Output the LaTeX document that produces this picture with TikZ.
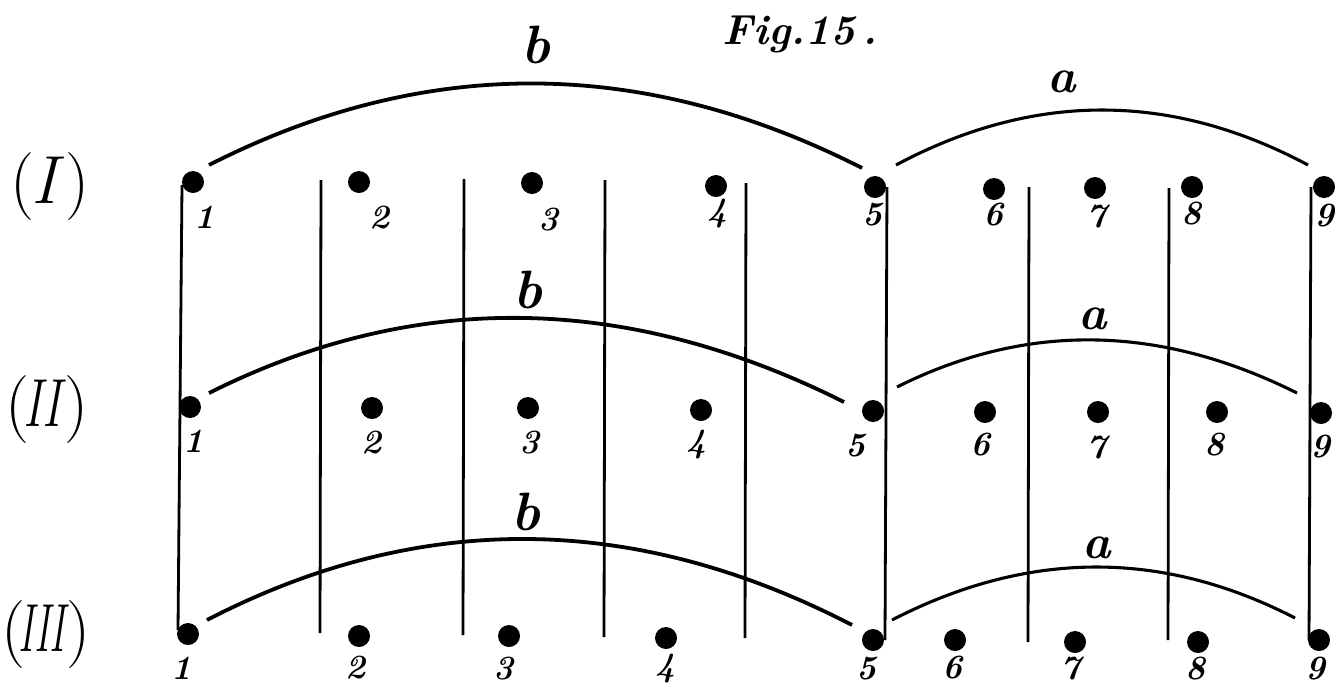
\documentclass[tikz,border=0pt]{standalone}
\usepackage{fontspec}
\usepackage{graphicx}
\tikzset{
  blob/.style={circle, fill=black, inner sep=0pt, minimum size=22pt},
  numlbl/.style={font=\fontsize{34}{34}\selectfont\bfseries\itshape, inner sep=0pt},
  barclbl/.style={font=\fontsize{54}{54}\selectfont\bfseries\itshape, inner sep=0pt},
  aarclbl/.style={font=\fontsize{48}{48}\selectfont\bfseries\itshape, inner sep=0pt},
  rowlbl/.style={font=\fontsize{68}{68}\selectfont, inner sep=0pt},
  figlbl/.style={font=\fontsize{42}{42}\selectfont\bfseries\itshape, inner sep=0pt},
  vline/.style={line width=2.8pt},
  barc/.style={line width=3.8pt},
  aarc/.style={line width=3.1pt}
}
\begin{document}
\begin{tikzpicture}[x=1pt,y=-1pt]
\fill[white] (0,0) rectangle (1335,689);
\useasboundingbox (0,0) rectangle (1335,689);

% title
\node[figlbl] (fig) at (800,34) {Fig.15\,.};

% row labels
\node[rowlbl] (rI)   at (50,187) {(\kern-0.05em\textit{I}\kern0.02em)};
\node[rowlbl] (rII)  at (47,410) {(\kern-0.08em\scalebox{0.72}[1]{\textit{II}}\kern-0.02em)};
\node[rowlbl] (rIII) at (46,635) {(\kern-0.1em\scalebox{0.6}[1]{\textit{III}}\kern-0.04em)};

% dots
\foreach \n/\x/\y in {1/193/182,2/359/182,3/532/183,4/716/186,5/875/187,6/994/189,7/1095/188,8/1192/187,9/1324/187}
  \node[blob] (dI\n) at (\x,\y) {};
\foreach \n/\x/\y in {1/190/407,2/372/408,3/528/408,4/701/410,5/873/411,6/985/412,7/1098/412,8/1217/412,9/1321/413}
  \node[blob] (dII\n) at (\x,\y) {};
\foreach \n/\x/\y in {1/188/634,2/359/636,3/509/636,4/666/638,5/873/640,6/955/640,7/1075/642,8/1198/642,9/1319/640}
  \node[blob] (dIII\n) at (\x,\y) {};

% number labels
\foreach \n/\x/\y in {1/205/217,2/380/218,3/549/220,4/718/214,5/873/215,6/994/215,7/1097/217,8/1192/214,9/1325/216}
  \node[numlbl] (lI\n) at (\x,\y) {\n};
\foreach \n/\x/\y in {1/194/441,2/372/443,3/530/443,4/697/445,5/856/446,6/981/445,7/1097/448,8/1215/445,9/1321/447}
  \node[numlbl] (lII\n) at (\x,\y) {\n};
\foreach \n/\x/\y in {1/182/668,2/356/668,3/504/669,4/666/669,5/867/669,6/953/668,7/1071/669,8/1196/669,9/1316/669}
  \node[numlbl] (lIII\n) at (\x,\y) {\n};

% vertical lines
\coordinate (v1t) at (182,185); \coordinate (v1b) at (178,630);
\coordinate (v2t) at (321,180); \coordinate (v2b) at (320,633);
\coordinate (v3t) at (464,179); \coordinate (v3b) at (463,635);
\coordinate (v4t) at (605,180); \coordinate (v4b) at (604,637);
\coordinate (v5t) at (746,183); \coordinate (v5b) at (745,638);
\coordinate (v6t) at (887,187); \coordinate (v6b) at (885,640);
\coordinate (v7t) at (1029,187); \coordinate (v7b) at (1028,642);
\coordinate (v8t) at (1169,188); \coordinate (v8b) at (1168,640);
\coordinate (v9t) at (1311,187); \coordinate (v9b) at (1309,640);
\foreach \i in {1,...,9}
  \draw[vline] (v\i t) -- (v\i b);

% arcs
\coordinate (bIs) at (209,165);  \coordinate (bIe) at (862,168);
\coordinate (aIs) at (896,165);  \coordinate (aIe) at (1308,165);
\coordinate (bIIs) at (209,393); \coordinate (bIIe) at (844,402);
\coordinate (aIIs) at (897,387); \coordinate (aIIe) at (1297,393);
\coordinate (bIIIs) at (207,620); \coordinate (bIIIe) at (852,625);
\coordinate (aIIIs) at (892,620); \coordinate (aIIIe) at (1295,618);

\draw[barc] (bIs) .. controls +(217.7,-110.7) and +(-217.7,-110.7) .. (bIe);
\draw[aarc] (aIs) .. controls +(137.3,-73.3) and +(-137.3,-73.3) .. (aIe);
\draw[barc] (bIIs) .. controls +(211.7,-106) and +(-211.7,-106) .. (bIIe);
\draw[aarc] (aIIs) .. controls +(133.3,-66.7) and +(-133.3,-66.7) .. (aIIe);
\draw[barc] (bIIIs) .. controls +(215,-111.3) and +(-215,-111.3) .. (bIIIe);
\draw[aarc] (aIIIs) .. controls +(134.3,-69.3) and +(-134.3,-69.3) .. (aIIIe);

% arc labels
\node[barclbl] (b1) at (536,45) {b};
\node[aarclbl] (a1) at (1062,82) {a};
\node[barclbl] (b2) at (528,290) {b};
\node[aarclbl] (a2) at (1093,319) {a};
\node[barclbl] (b3) at (526,512) {b};
\node[aarclbl] (a3) at (1097,548) {a};
\end{tikzpicture}
\end{document}
